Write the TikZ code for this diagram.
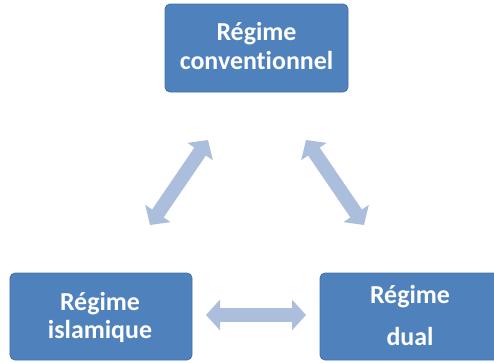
\documentclass[tikz,border=0pt]{standalone}
\usepackage{fontspec}
\setmainfont{Carlito}[Ligatures=NoCommon]
\usetikzlibrary{arrows.meta}
\definecolor{boxblue}{HTML}{4F81BD}
\definecolor{boxedge}{HTML}{41719C}
\definecolor{arrowblue}{HTML}{ABBFDC}
\tikzset{
  regime/.style={draw=boxedge, line width=0.8bp, fill=boxblue, rounded corners=5bp},
  regimetext/.style={text=white, font=\fontsize{26}{29}\selectfont\bfseries, anchor=base, inner sep=0pt},
  link/.style={arrowblue, line width=14bp,
    {Triangle[width=30bp,length=14bp]}-{Triangle[width=30bp,length=14bp]}}
}
\begin{document}
\begin{tikzpicture}[x=1bp,y=-1bp]
\useasboundingbox (0,0) rectangle (494,362);
\node[regime, minimum width=183bp, minimum height=88bp] (conv) at (256.5,48) {};
\node[regime, minimum width=182bp, minimum height=87bp] (isl) at (101,316.5) {};
\node[regime, minimum width=182bp, minimum height=87bp] (dual) at (411,316.5) {};
\node[regimetext] (conv1) at (256.5,40) {Régime};
\node[regimetext] (conv2) at (256.5,69) {conventionnel};
\node[regimetext] (isl1) at (100,310) {Régime};
\node[regimetext] (isl2) at (100,338) {islamique};
\node[regimetext] (dual1) at (410,303) {Régime};
\node[regimetext] (dual2) at (410,345) {dual};
\coordinate (a1) at (208,140);
\coordinate (a2) at (150,225);
\coordinate (b1) at (306,140);
\coordinate (b2) at (364,225);
\coordinate (c1) at (206,315);
\coordinate (c2) at (306,315);
\draw[link] (a1) -- (a2);
\draw[link] (b1) -- (b2);
\draw[link] (c1) -- (c2);
\end{tikzpicture}
\end{document}
